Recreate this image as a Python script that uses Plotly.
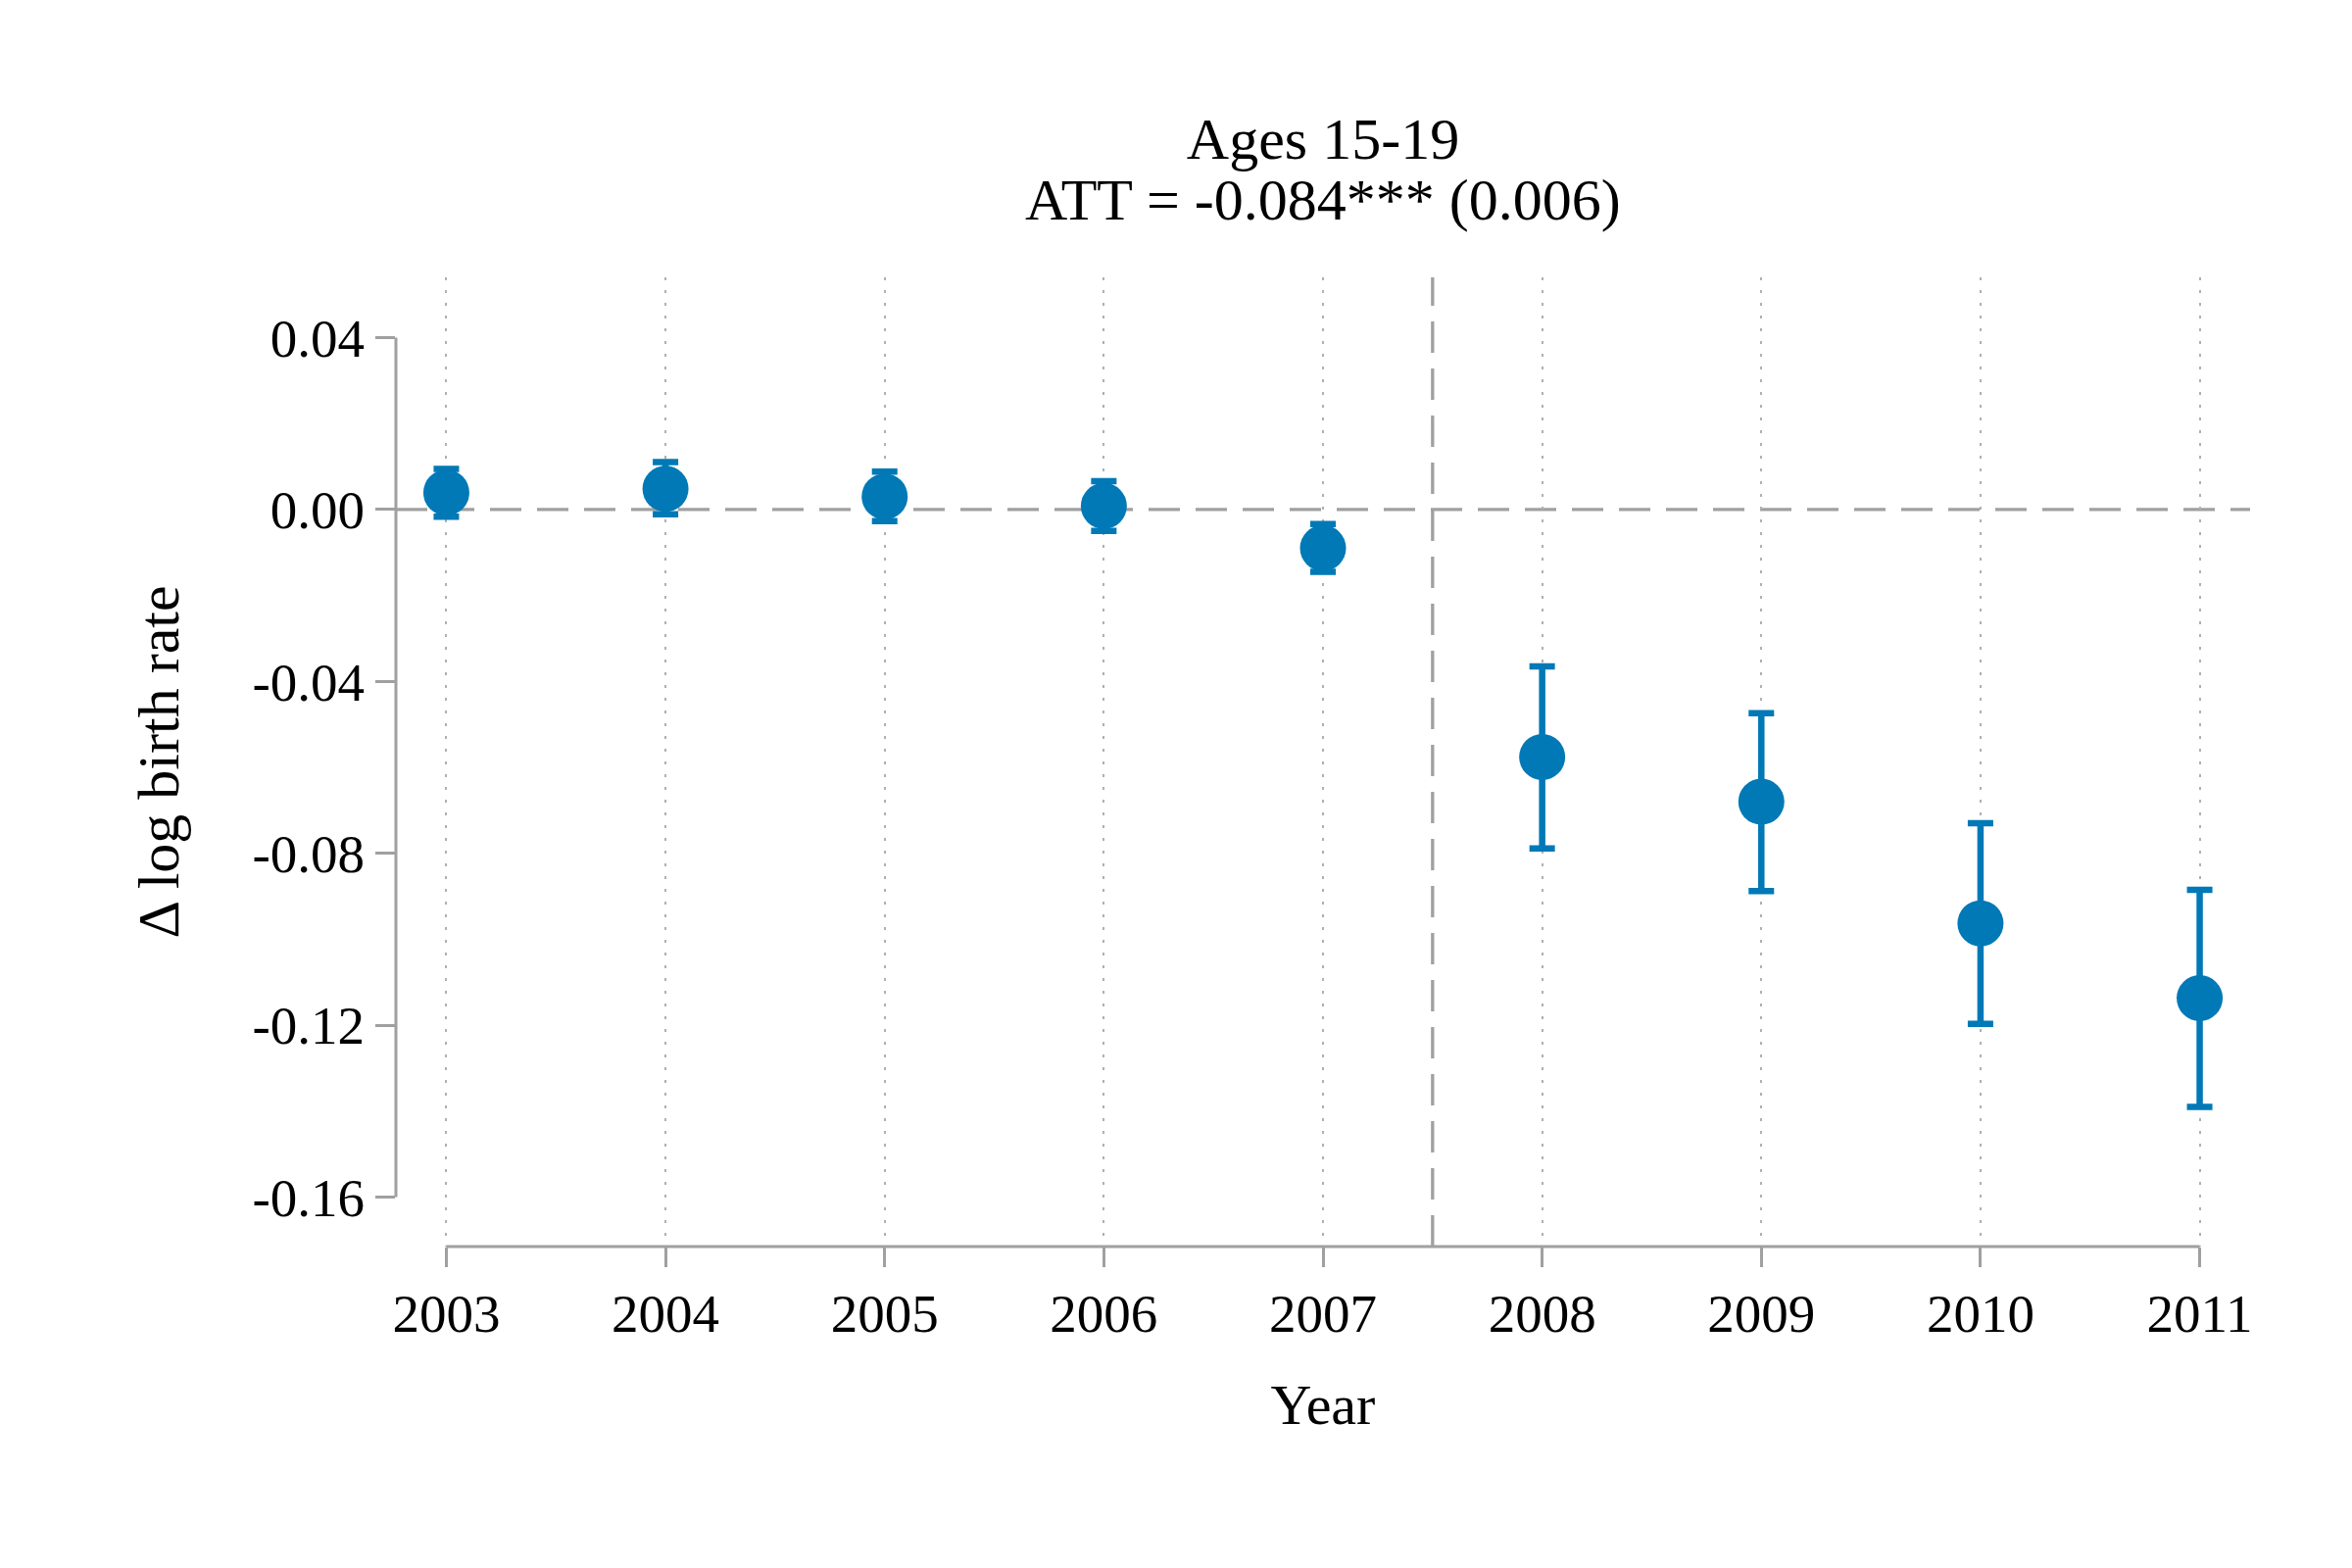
import plotly.graph_objects as go

years = [2003, 2004, 2005, 2006, 2007, 2008, 2009, 2010, 2011]
estimates = [0.0039, 0.0048, 0.0030, 0.0008, -0.0090, -0.0576, -0.0680, -0.0963, -0.1137]
ci_upper = [0.0094, 0.0110, 0.0088, 0.0066, -0.0034, -0.0365, -0.0474, -0.0730, -0.0885]
ci_lower = [-0.0017, -0.0011, -0.0027, -0.0050, -0.0145, -0.0789, -0.0888, -0.1197, -0.1390]
y_ticks = [0.04, 0.00, -0.04, -0.08, -0.12, -0.16]
y_tick_labels = ["0.04", "0.00", "-0.04", "-0.08", "-0.12", "-0.16"]
title_line1 = "Ages 15-19"
title_line2 = "ATT = -0.084*** (0.006)"

BLUE = "#0079B6"
GRAY = "#A0A0A0"
FONT = "Liberation Serif"

err_plus = [u - e for u, e in zip(ci_upper, estimates)]
err_minus = [e - l for e, l in zip(estimates, ci_lower)]

fig = go.Figure()
fig.add_trace(go.Scatter(
    x=years, y=estimates, mode="markers",
    marker=dict(size=47, color=BLUE, line=dict(width=0)),
    error_y=dict(type="data", symmetric=False, array=err_plus, arrayminus=err_minus,
                 color=BLUE, thickness=6.5, width=13),
    showlegend=False,
))

shapes = [
    # zero reference line
    dict(type="line", xref="paper", yref="y", x0=0, x1=1, y0=0, y1=0,
         line=dict(color=GRAY, width=3.3, dash="32px,16px"), layer="below"),
    # treatment line
    dict(type="line", xref="x", yref="paper", x0=2007.5, x1=2007.5, y0=0, y1=1,
         line=dict(color=GRAY, width=3.3, dash="32px,16px"), layer="below"),
    # y axis line
    dict(type="line", xref="paper", yref="y", x0=0, x1=0, y0=y_ticks[-1], y1=y_ticks[0],
         line=dict(color=GRAY, width=3)),
    # x axis line
    dict(type="line", xref="x", yref="paper", x0=years[0], x1=years[-1], y0=0, y1=0,
         line=dict(color=GRAY, width=3)),
]

fig.update_layout(
    width=2400, height=1600,
    paper_bgcolor="white", plot_bgcolor="white",
    margin=dict(l=404, r=104, t=283, b=328),
    font=dict(family=FONT, color="black", size=55),
    shapes=shapes,
    title=dict(text=title_line1, x=0.5, xref="paper", xanchor="center",
               y=1 - 141 / 1600, yref="container", yanchor="middle",
               font=dict(family=FONT, size=60, color="black")),
    annotations=[dict(text=title_line2, x=0.5, xref="paper", y=(1272 - 204) / 989, yref="paper",
                      xanchor="center", yanchor="middle", showarrow=False,
                      font=dict(family=FONT, size=60, color="black"))],
    xaxis=dict(
        range=[2002.77, 2011.23], tickvals=years, ticktext=[str(y) for y in years],
        showline=False, zeroline=False,
        showgrid=True, gridcolor="#B0B0B0", gridwidth=2, griddash="3px,10px",
        ticks="outside", ticklen=20, tickwidth=3, tickcolor=GRAY,
        tickfont=dict(family=FONT, size=55, color="black"),
        title=dict(text="Year", font=dict(family=FONT, size=58, color="black"), standoff=42),
    ),
    yaxis=dict(
        range=[-0.1715, 0.054], tickvals=y_ticks, ticktext=y_tick_labels,
        showline=False, zeroline=False, showgrid=False,
        ticks="outside", ticklen=20, tickwidth=3, tickcolor=GRAY,
        tickfont=dict(family=FONT, size=55, color="black"),
        title=dict(text="Δ log birth rate", font=dict(family=FONT, size=60, color="black"), standoff=55),
    ),
)

fig.write_html("out.html")
